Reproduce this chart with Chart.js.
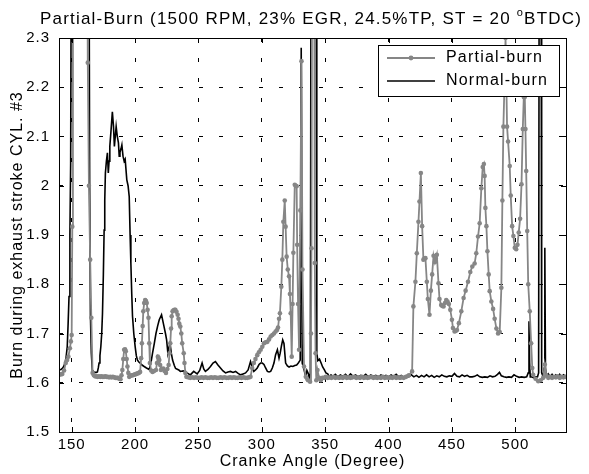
<!DOCTYPE html>
<html>
<head>
<meta charset="utf-8">
<script src="https://cdn.jsdelivr.net/npm/chart.js@4.4.1/dist/chart.umd.min.js"></script>
<style>
  html, body { margin: 0; padding: 0; background: #fff; }
  canvas { display: block; }
</style>
</head>
<body>
<canvas id="burnChart" width="589" height="474"></canvas>
<script>
'use strict';

//////// DATA ////////
// values above 2.3 are clipped spikes

let xTicks = [150, 200, 250, 300, 350, 400, 450, 500];
let yTicks = [1.5, 1.6, 1.7, 1.8, 1.9, 2.0, 2.1, 2.2, 2.3];

let partialAngle = [
  140, 141.5, 142.6, 144, 145.3, 146.4, 147.4, 148.6, 149.4, 150, 150.5, 151,
  162.2, 162.7, 163.6, 164.6, 165.5, 166.5,
  167.5, 168.5, 169.5, 170.5, 171.5, 172.5, 173.5, 174.5, 175.5, 176.5, 177.5, 178.5,
  179.5, 180.5, 181.5, 182.5, 183.5, 184.5, 185.5, 186.5, 187.5, 188.5,
  189.3, 190, 190.7, 191.4, 192.1, 192.7, 193.4, 194, 194.7, 195.4, 196.2, 197, 198, 199,
  200, 201, 202, 203, 204, 204.8, 205.4, 206, 206.5, 207.2, 208, 208.6, 209.2, 209.9,
  210.6, 211.2, 211.7, 212.7, 213.8, 215, 216.5, 217.3, 218, 218.6, 219.1, 219.8,
  220.4, 221.3, 222.2, 223.3, 224.4, 225.5, 226.5, 227.2, 227.8, 228.4, 228.9, 229.6,
  230.4, 231.1, 231.8, 232.7, 233.6, 234.3, 234.9, 235.7, 236.5, 237.2, 238.4, 239, 239.7, 240.5,
  242, 243.5, 245, 246.5, 248, 249.5, 251, 252.5, 254, 255.5, 257, 258.5, 260, 261.5,
  263, 264.5, 266, 267.5, 269, 270.5, 272, 273.5, 275, 276.5, 278, 279.5, 281, 282.5,
  284, 285.5, 287, 288.5, 290,
  291.1, 292.4, 293.7, 295, 296.4, 297.7, 299.1, 300.4, 301.7, 303, 304.4, 305.7, 307,
  308.3, 309.6, 310.9, 312, 312.8, 313.6, 314.3, 315.4, 316.2, 317, 318.1, 318.8, 319.6,
  320.5, 321.5, 322.2, 322.8, 323.6, 324.3, 324.9, 326, 326.8, 327.5, 327.9, 328.6, 329.4,
  330.4, 331.3, 332.1, 333.3, 334.7, 336.5, 338.1, 338.8, 339.2, 339.8, 341.3, 341.8,
  342.4, 343, 343.9, 345.2, 346.5, 347.9, 349.2,
  350.5, 352, 353.5, 355, 356.5, 358, 359.5, 361, 362.5, 364, 365.5, 367, 368.5, 370,
  371.5, 373, 374.5, 376, 377.5, 379, 380.5, 382, 383.5, 385, 386.5, 388, 389.5, 391,
  392.5, 394, 395.5, 397, 398.5, 400, 401.5, 403, 404.5, 406, 407.5, 409, 410.5, 412,
  413.8, 416, 418.6, 419.6, 421.2, 422.3, 423.6, 424.4, 425.5, 426.5, 427.5, 428.3, 429.1,
  430.2, 431, 432.3, 433.4, 434.4, 435.5, 436.6, 437.3, 438.1, 439.4, 440.2, 441.5, 442.4,
  443.4, 444.5, 445.5, 446.5, 447.6, 448.7, 450, 450.8, 452.1, 453, 454, 455.5, 457.4,
  459.2, 460.8, 462.7, 464.5, 466.1, 467.9, 469.2, 470.6, 471.9, 473.2, 474.3, 475.2,
  475.8, 476.4, 477.2, 478, 479, 479.8, 481.1, 482.5, 483.7, 485.1, 486.4, 487.7, 489,
  489.8, 490.6, 491.6, 492.3, 493, 493.5, 494.3, 495.6, 496.4, 497.5, 498.5, 499.6,
  500.7, 501.7, 502.7, 503.8, 504.9, 505.9, 506.7, 507.1, 507.5, 508, 508.6, 509.4,
  510.2, 511.4, 512.5, 513.4, 514.1, 516, 518.1, 520, 522, 523.3, 524.5, 526, 527.5,
  529, 530.5, 532, 533.5, 535, 536.5, 538, 539.5
];

let partialBurn = [
  1.616, 1.617, 1.618, 1.625, 1.640, 1.646, 1.653, 1.670, 1.684, 1.697, 1.917, 2.6,
  2.6, 2.25, 2.0, 1.85, 1.732, 1.620,
  1.615, 1.613, 1.613, 1.612, 1.613, 1.612, 1.613, 1.612, 1.612, 1.613, 1.612, 1.612,
  1.611, 1.612, 1.611, 1.612, 1.611, 1.610, 1.610, 1.610, 1.608, 1.607,
  1.615, 1.626, 1.648, 1.667, 1.668, 1.664, 1.648, 1.633, 1.620, 1.612, 1.614, 1.615, 1.615, 1.616,
  1.617, 1.618, 1.619, 1.620, 1.622, 1.650, 1.680, 1.715, 1.745, 1.762, 1.768, 1.766, 1.762, 1.748,
  1.732, 1.680, 1.640, 1.625, 1.622, 1.624, 1.626, 1.640, 1.653, 1.650, 1.646, 1.636,
  1.626, 1.628, 1.629, 1.624, 1.620, 1.628, 1.636, 1.660, 1.680, 1.710, 1.735, 1.745,
  1.747, 1.748, 1.748, 1.744, 1.738, 1.730, 1.720, 1.714, 1.700, 1.680, 1.660, 1.640, 1.620, 1.612,
  1.611, 1.610, 1.611, 1.610, 1.611, 1.610, 1.610, 1.611, 1.610, 1.611, 1.610, 1.610, 1.611, 1.610,
  1.611, 1.610, 1.610, 1.611, 1.610, 1.611, 1.610, 1.610, 1.611, 1.610, 1.611, 1.610, 1.610, 1.611,
  1.610, 1.611, 1.610, 1.610, 1.611,
  1.612, 1.630, 1.640, 1.648, 1.656, 1.662, 1.667, 1.673, 1.680, 1.682, 1.683, 1.688, 1.694,
  1.697, 1.700, 1.704, 1.707, 1.712, 1.730, 1.741, 1.795, 1.850, 1.927, 1.970, 1.917, 1.856,
  1.830, 1.816, 1.780, 1.741, 1.653, 1.760, 1.864, 2.002, 2.000, 1.999, 1.880, 1.760, 1.667,
  1.950, 2.253, 1.830, 1.633, 1.612, 1.605, 1.602, 1.700, 1.873, 2.6, 2.6, 1.843,
  1.660, 1.605, 1.626, 1.610, 1.605, 1.610, 1.610,
  1.612, 1.610, 1.611, 1.610, 1.612, 1.610, 1.611, 1.610, 1.611, 1.610, 1.612, 1.610, 1.611, 1.610,
  1.611, 1.612, 1.610, 1.611, 1.610, 1.612, 1.610, 1.611, 1.610, 1.611, 1.612, 1.610, 1.611, 1.610,
  1.611, 1.610, 1.612, 1.610, 1.611, 1.610, 1.611, 1.610, 1.612, 1.610, 1.611, 1.610, 1.611, 1.610,
  1.612, 1.615, 1.623, 1.755, 1.805, 1.863, 1.927, 1.968, 2.026, 1.918, 1.850, 1.852, 1.853,
  1.805, 1.770, 1.738, 1.787, 1.820, 1.858, 1.845, 1.852, 1.860, 1.802, 1.770, 1.758, 1.756,
  1.755, 1.762, 1.768, 1.765, 1.760, 1.748, 1.728, 1.711, 1.704, 1.705, 1.707, 1.721, 1.745,
  1.772, 1.787, 1.805, 1.825, 1.836, 1.842, 1.863, 1.897, 1.924, 1.995, 2.038, 2.044,
  2.020, 1.955, 1.918, 1.867, 1.820, 1.786, 1.765, 1.750, 1.730, 1.710, 1.700, 1.703, 1.793,
  1.970, 2.120, 2.220, 2.300, 2.200, 2.120, 2.090, 2.040, 1.980, 1.918, 1.898, 1.874,
  1.871, 1.880, 1.905, 1.933, 2.003, 2.115, 2.180, 2.260, 2.180, 2.115, 2.030, 1.908,
  1.800, 1.745, 1.680, 1.630, 1.616, 1.608, 1.603, 1.605, 1.610, 1.637, 1.615, 1.610, 1.612,
  1.610, 1.612, 1.611, 1.613, 1.610, 1.612, 1.611, 1.612
];

let normalAngle = [
  140, 141.5, 142.6, 143.7, 144.7, 145.6, 146.5, 147.2, 147.9, 148.6, 149.2, 149.8,
  163.6, 164.2, 164.8, 165.5, 166.3, 167.5, 168.5, 169.5, 170.3, 171, 171.6, 172.3, 173,
  173.7, 174.3, 175, 175.6, 176.1, 176.6, 177.4, 178.2, 178.9, 179.5, 180.1, 181.1, 182.1,
  183, 183.7, 184.4, 185.1, 186, 186.9, 187.5, 188.1, 188.9, 189.6, 190.5, 191.4, 192.2,
  193.5, 194.5, 195.4, 196.1, 196.7, 197.4, 198, 199, 200.1, 201, 201.9, 203, 204, 205.5,
  207.2, 209, 211.2, 212.5, 213.8, 215.2, 216.5, 217.8, 219.1, 220.9, 222.7, 224, 224.9,
  225.9, 226.8, 227.6, 228.6, 229.6, 231, 232, 234.5, 235.7, 238, 241, 243.6, 246.3, 249,
  251, 252.9, 254.2, 255.5, 257.5, 259.5, 261.5, 263.4, 265.4, 267.4, 269.4, 271.4, 273.3,
  275.3, 277.3, 279.3, 281.3, 283.2, 285.2, 287.2, 289.2, 291.1, 292.4, 293.7, 295, 296.4,
  297.8, 299.1, 300.4, 301.7, 303, 304.4, 305.7, 307, 308.3, 309.6, 310.9, 312.3, 313.6,
  314.5, 315.5, 316.5, 317.5, 318.8, 320.2, 321.5, 323, 324.5, 326, 327.5, 328.8, 330.3,
  331.1, 331.9, 333, 334.7, 335.6, 336.5, 337.5, 338.3, 338.9, 342.8, 343.4, 344.2, 345.5,
  346.8, 348, 349.4, 350.6, 352, 353.3, 354.6, 356,
  358, 360, 362, 364, 366, 368, 370, 372, 374, 376, 378, 380, 382, 384, 386, 388, 390,
  392, 394, 396, 398, 400, 402, 404, 406, 408, 410, 412, 414, 416, 418, 420, 422, 424,
  426, 428, 430, 432, 434, 436, 438, 440, 442, 444, 446, 448, 450, 452, 454, 456, 458,
  460, 462, 464, 466, 468, 470, 472, 474, 476, 478, 480, 482, 484, 486, 487.5, 489, 491,
  493, 495, 497, 499, 501, 503, 505, 507, 509,
  510.2, 510.8, 511.3, 511.8, 513, 514.5, 516, 517.5, 518.4, 518.9, 520.3, 520.8, 522,
  522.8, 523.3, 523.8, 524.5, 526, 527.5, 529, 530.5, 532, 533.5, 535, 536.5, 538, 540
];

let normalBurn = [
  1.626, 1.627, 1.629, 1.633, 1.640, 1.652, 1.673, 1.720, 1.775, 1.900, 2.046, 2.6,
  2.6, 2.000, 1.735, 1.660, 1.625, 1.622, 1.621, 1.621, 1.622, 1.630, 1.640, 1.655, 1.673,
  1.700, 1.740, 1.820, 1.910, 1.970, 2.026, 2.050, 2.067, 2.026, 2.050, 2.080, 2.114, 2.150,
  2.120, 2.080, 2.100, 2.120, 2.100, 2.087, 2.060, 2.068, 2.075, 2.083, 2.060, 2.050, 2.054,
  2.012, 2.000, 1.978, 1.900, 1.843, 1.780, 1.735, 1.700, 1.673, 1.655, 1.646, 1.642, 1.640, 1.636,
  1.633, 1.630, 1.627, 1.640, 1.660, 1.680, 1.700, 1.715, 1.728, 1.738, 1.716, 1.700, 1.687,
  1.660, 1.672, 1.680, 1.660, 1.646, 1.635, 1.629, 1.626, 1.623, 1.624, 1.620, 1.616, 1.623, 1.618,
  1.625, 1.640, 1.628, 1.623, 1.627, 1.633, 1.640, 1.643, 1.636, 1.630, 1.624, 1.620, 1.622,
  1.623, 1.621, 1.623, 1.619, 1.616, 1.618, 1.620, 1.626, 1.643, 1.632, 1.623, 1.626, 1.630,
  1.637, 1.640, 1.640, 1.637, 1.630, 1.623, 1.622, 1.623, 1.630, 1.640, 1.657, 1.667, 1.650,
  1.660, 1.675, 1.687, 1.680, 1.640, 1.634, 1.632, 1.634, 1.633, 1.635, 1.636, 1.640, 1.646,
  2.280, 1.640, 1.630, 1.612, 1.625, 1.620, 1.610, 1.620, 2.6, 2.6, 1.660, 1.645, 1.648,
  1.640, 1.632, 1.626, 1.620, 1.618, 1.612, 1.616, 1.612,
  1.617, 1.612, 1.616, 1.613, 1.617, 1.612, 1.618, 1.613, 1.616, 1.612, 1.615, 1.613, 1.617,
  1.612, 1.616, 1.613, 1.615, 1.612, 1.616, 1.613, 1.615, 1.612, 1.616, 1.613, 1.617, 1.612,
  1.615, 1.611, 1.615, 1.612, 1.616, 1.612, 1.615, 1.611, 1.615, 1.612, 1.616, 1.612, 1.615,
  1.611, 1.614, 1.612, 1.616, 1.613, 1.612, 1.614, 1.613, 1.619, 1.613, 1.612, 1.616, 1.613,
  1.615, 1.612, 1.612, 1.613, 1.616, 1.612, 1.611, 1.612, 1.611, 1.614, 1.612, 1.613, 1.617,
  1.621, 1.614, 1.612, 1.611, 1.612, 1.611, 1.616, 1.613, 1.611, 1.612, 1.611, 1.612,
  1.620, 1.725, 1.640, 1.612, 1.612, 1.610, 1.612, 1.612, 1.620, 2.6, 2.6, 1.620, 1.612,
  1.630, 1.874, 1.630, 1.613, 1.618, 1.612, 1.617, 1.611, 1.616, 1.612, 1.617, 1.611, 1.616, 1.613
];

let titleText = 'Partial-Burn (1500 RPM, 23% EGR, 24.5%TP, ST = 20 ';
let titleSup = 'o';
let titleEnd = 'BTDC)';
let seriesNames = ['Partial-burn', 'Normal-burn'];

const FONT = '"Liberation Sans", Arial, Helvetica, sans-serif';
const GRAY = '#868686';

function toPoints(xs, ys) {
  let pts = [];
  for (let i = 0; i < xs.length; i++) {
    pts.push({x: xs[i], y: ys[i]});
  }
  return pts;
}

//////// PLUGINS ////////

// matlab text is a bit spread out
const spacing = {
  id: 'spacing',
  beforeDraw(chart) {
    chart.ctx.letterSpacing = '1px';
  }
};

// box + inward ticks like matlab
const frameTicks = {
  id: 'frameTicks',
  afterDatasetsDraw(chart) {
    const {ctx, chartArea: a, scales} = chart;
    ctx.save();
    ctx.setLineDash([]);
    ctx.strokeStyle = '#000';
    ctx.lineWidth = 1;
    ctx.beginPath();
    for (let v of xTicks) {
      let px = Math.round(scales.x.getPixelForValue(v)) + 0.5;
      ctx.moveTo(px, a.bottom); ctx.lineTo(px, a.bottom - 5);
      ctx.moveTo(px, a.top); ctx.lineTo(px, a.top + 5);
    }
    for (let v of yTicks) {
      let py = Math.round(scales.y.getPixelForValue(v)) + 0.5;
      ctx.moveTo(a.left, py); ctx.lineTo(a.left + 5, py);
      ctx.moveTo(a.right, py); ctx.lineTo(a.right - 5, py);
    }
    ctx.stroke();
    ctx.strokeRect(Math.round(a.left) + 0.5, Math.round(a.top) + 0.5,
      Math.round(a.right - a.left), Math.round(a.bottom - a.top));
    ctx.restore();
  }
};

// legend box sits inside the axes, top right
const boxLegend = {
  id: 'boxLegend',
  afterDatasetsDraw(chart) {
    const ctx = chart.ctx;
    let bx = 378, by = 45, bw = 181, bh = 51;
    ctx.save();
    ctx.setLineDash([]);
    ctx.fillStyle = '#fff';
    ctx.fillRect(bx, by, bw, bh);
    ctx.strokeStyle = '#000';
    ctx.lineWidth = 1;
    ctx.strokeRect(bx + 0.5, by + 0.5, bw, bh);

    let rows = [by + 13, by + 36];
    // gray w/ marker
    ctx.strokeStyle = GRAY;
    ctx.lineWidth = 1.8;
    ctx.beginPath();
    ctx.moveTo(387, rows[0]); ctx.lineTo(435, rows[0]);
    ctx.stroke();
    ctx.fillStyle = GRAY;
    ctx.beginPath();
    ctx.arc(411, rows[0], 2.4, 0, Math.PI * 2);
    ctx.fill();
    // black
    ctx.strokeStyle = '#000';
    ctx.lineWidth = 1.6;
    ctx.beginPath();
    ctx.moveTo(387, rows[1]); ctx.lineTo(435, rows[1]);
    ctx.stroke();

    ctx.fillStyle = '#000';
    ctx.font = '16px ' + FONT;
    ctx.letterSpacing = '1.2px';
    ctx.textBaseline = 'middle';
    ctx.textAlign = 'left';
    ctx.fillText(seriesNames[0], 446, rows[0]);
    ctx.fillText(seriesNames[1], 446, rows[1]);
    ctx.restore();
  }
};

// title with the superscript o
const supTitle = {
  id: 'supTitle',
  afterDraw(chart) {
    const ctx = chart.ctx;
    ctx.save();
    ctx.fillStyle = '#000';
    ctx.textBaseline = 'alphabetic';
    ctx.textAlign = 'left';
    ctx.letterSpacing = '1.2px';
    let big = '17px ' + FONT;
    let small = '11px ' + FONT;
    ctx.font = big;
    let w1 = ctx.measureText(titleText).width;
    let w3 = ctx.measureText(titleEnd).width;
    ctx.font = small;
    let w2 = ctx.measureText(titleSup).width;
    let x0 = 311 - (w1 + w2 + w3) / 2;
    let base = 24;
    ctx.font = big;
    ctx.fillText(titleText, x0, base);
    ctx.font = small;
    ctx.fillText(titleSup, x0 + w1, base - 8);
    ctx.font = big;
    ctx.fillText(titleEnd, x0 + w1 + w2, base);
    ctx.restore();
  }
};

//////// CHART ////////

Chart.defaults.font.family = FONT;
Chart.defaults.color = '#000';

const ctx = document.getElementById('burnChart');
const burnChart = new Chart(ctx, {
  type: 'line',
  data: {
    datasets: [{
      label: seriesNames[0],
      data: toPoints(partialAngle, partialBurn),
      borderColor: GRAY,
      backgroundColor: GRAY,
      borderWidth: 1.8,
      pointRadius: 2.3,
      pointBorderWidth: 0,
      pointBackgroundColor: GRAY,
      tension: 0
    },
    {
      label: seriesNames[1],
      data: toPoints(normalAngle, normalBurn),
      borderColor: '#000',
      borderWidth: 1.6,
      pointRadius: 0,
      tension: 0
    }]
  },
  options: {
    responsive: false,
    animation: false,
    devicePixelRatio: 1,
    events: [],
    layout: {padding: {top: 38, right: 23, left: 0, bottom: 0}},
    plugins: {
      legend: {display: false},
      title: {display: false},
      tooltip: {enabled: false}
    },
    scales: {
      x: {
        type: 'linear',
        min: 140,
        max: 540,
        afterBuildTicks: s => { s.ticks = xTicks.map(v => ({value: v})); },
        afterFit: s => { s.height = 42; },
        ticks: {font: {size: 15}, padding: 4, maxRotation: 0, autoSkip: false, callback: v => String(v)},
        grid: {color: '#000', lineWidth: 1, drawTicks: false},
        border: {display: false, dash: [4, 16]},
        title: {display: true, text: 'Cranke Angle (Degree)', font: {size: 16}, padding: {top: 0, bottom: 3}}
      },
      y: {
        type: 'linear',
        min: 1.5,
        max: 2.3,
        afterBuildTicks: s => { s.ticks = yTicks.map(v => ({value: v})); },
        afterFit: s => { s.width = 59; },
        ticks: {font: {size: 15}, padding: 9, callback: v => String(Math.round(v * 10) / 10)},
        grid: {color: '#000', lineWidth: 1, drawTicks: false},
        border: {display: false, dash: [4, 16]},
        title: {display: true, text: 'Burn during exhaust stroke CYL. #3', font: {size: 16}, padding: {top: 8, bottom: 0}}
      }
    }
  },
  plugins: [spacing, boxLegend, frameTicks, supTitle]
});
</script>
</body>
</html>
